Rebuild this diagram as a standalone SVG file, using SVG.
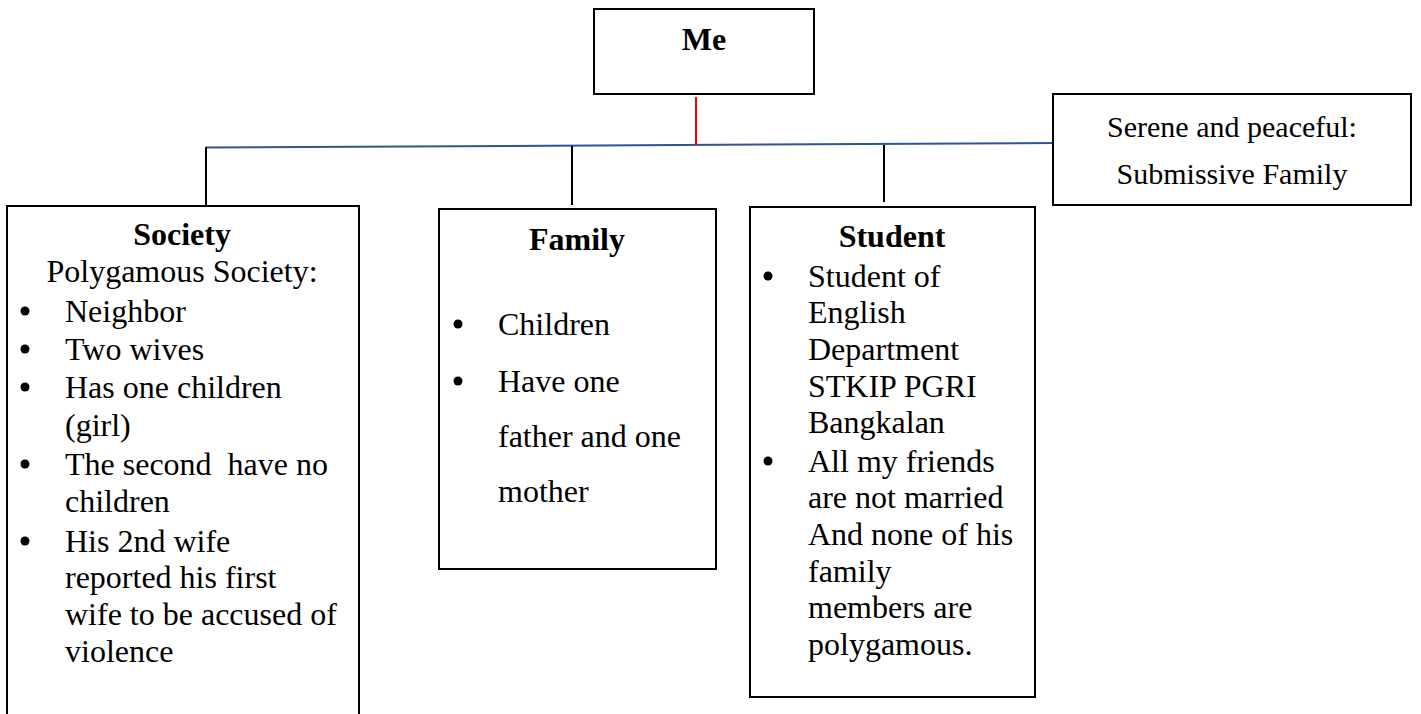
<svg xmlns="http://www.w3.org/2000/svg" width="1421" height="714" viewBox="0 0 1421 714">
<style>
.box{fill:#fff;stroke:#000;stroke-width:2}
text{font-family:"Liberation Serif","Times New Roman",serif;font-size:32px;fill:#000}
.b{font-weight:bold}
.c{text-anchor:middle}
.s{font-size:30px}
.k{stroke:#000;stroke-width:2}
</style>
<rect width="1421" height="714" fill="#fff"/>
<g id="connectors">
<line x1="206" y1="147.5" x2="1055" y2="143" stroke="#2e5597" stroke-width="2"/>
<line x1="696" y1="97" x2="696" y2="145" stroke="#ff0000" stroke-width="2"/>
<line class="k" x1="206" y1="147" x2="206" y2="206"/>
<line class="k" x1="572" y1="146" x2="572" y2="205"/>
<line class="k" x1="884" y1="145" x2="884" y2="202"/>
</g>
<g id="me">
<rect class="box" x="594" y="9" width="220" height="85"/>
<text class="b c" x="704" y="50">Me</text>
</g>
<g id="serene">
<rect class="box" x="1053" y="94" width="358" height="111"/>
<text class="c s" x="1232" y="137">Serene and peaceful:</text>
<text class="c s" x="1232" y="184">Submissive Family</text>
</g>
<g id="society">
<rect class="box" x="7" y="206" width="352" height="530"/>
<text class="b c" x="182" y="245">Society</text>
<text class="c" x="182" y="282">Polygamous Society:</text>
<g>
<circle cx="25" cy="311" r="4.5"/>
<circle cx="25" cy="349" r="4.5"/>
<circle cx="25" cy="387" r="4.5"/>
<circle cx="25" cy="464" r="4.5"/>
<circle cx="25" cy="541" r="4.5"/>
</g>
<text x="65" y="322">Neighbor</text>
<text x="65" y="360">Two wives</text>
<text x="65" y="398">Has one children</text>
<text x="65" y="436">(girl)</text>
<text x="65" y="475" xml:space="preserve">The second  have no</text>
<text x="65" y="512">children</text>
<text x="65" y="552">His 2nd wife</text>
<text x="65" y="588">reported his first</text>
<text x="65" y="625">wife to be accused of</text>
<text x="65" y="662">violence</text>
</g>
<g id="family">
<rect class="box" x="439" y="209" width="277" height="360"/>
<text class="b c" x="577" y="250">Family</text>
<circle cx="458" cy="324" r="4.5"/>
<circle cx="458" cy="381" r="4.5"/>
<text x="498" y="335">Children</text>
<text x="498" y="392">Have one</text>
<text x="498" y="447">father and one</text>
<text x="498" y="502">mother</text>
</g>
<g id="student">
<rect class="box" x="750" y="207" width="285" height="490"/>
<text class="b c" x="892" y="247">Student</text>
<circle cx="768" cy="276" r="4.5"/>
<circle cx="768" cy="461" r="4.5"/>
<text x="808" y="287">Student of</text>
<text x="808" y="323">English</text>
<text x="808" y="360">Department</text>
<text x="808" y="397">STKIP PGRI</text>
<text x="808" y="433">Bangkalan</text>
<text x="808" y="472">All my friends</text>
<text x="808" y="508">are not married</text>
<text x="808" y="545">And none of his</text>
<text x="808" y="582">family</text>
<text x="808" y="618">members are</text>
<text x="808" y="655">polygamous.</text>
</g>
</svg>
